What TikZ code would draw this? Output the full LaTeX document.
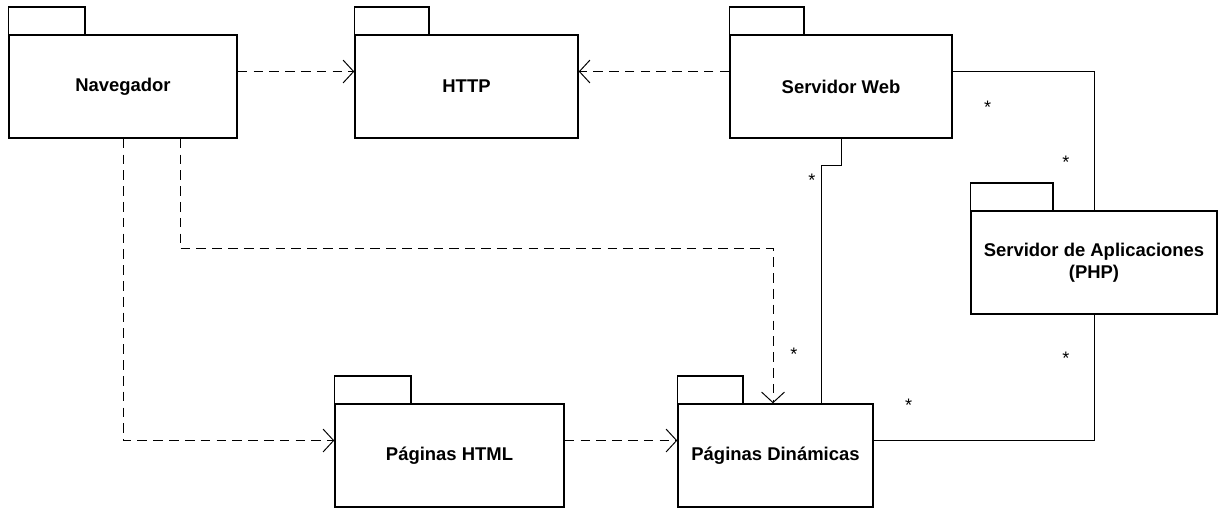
\documentclass[tikz,border=0pt]{standalone}
\usepackage{fontspec}
\setmainfont{Liberation Sans}
\usepackage{tikz}
\usetikzlibrary{arrows.meta, positioning, calc}
\tikzset{
  pkg/.style={draw, line width=0.85pt, rectangle, minimum height=2.06cm, align=center, font=\fontsize{10.5}{12.8}\selectfont\bfseries, inner sep=0pt},
  tab/.style={draw, line width=0.85pt},
  dep/.style={-{Straight Barb[length=6pt, width=13pt]}, line width=0.55pt, dash pattern=on 5.5pt off 3.5pt},
  assoc/.style={line width=0.55pt},
  mult/.style={font=\fontsize{10.3}{12}\selectfont, inner sep=0pt},
}

\begin{document}
\begin{tikzpicture}[x=0.02cm, y=-0.02cm]
  \useasboundingbox (0,0) rectangle (1219,508);

  \node[pkg, minimum width=4.56cm] (nav) at (123,86.5) {Navegador};
  \node[pkg, minimum width=4.46cm] (http) at (466.5,86.5) {HTTP};
  \node[pkg, minimum width=4.44cm] (web) at (841,86.5) {Servidor Web};
  \node[pkg, minimum width=4.92cm] (app) at (1094,262.5) {Servidor de Aplicaciones\\(PHP)};
  \node[pkg, minimum width=4.58cm] (html) at (449.5,455.5) {Páginas HTML};
  \node[pkg, minimum width=3.90cm] (din) at (775.5,455.5) {Páginas Dinámicas};

  % tabs
  \foreach \n in {nav, http, web, app, html, din}
    \draw[tab] (\n.north west) rectangle ($(\n.north west)!1/3!(\n.north east)+(0,-27.5)$);

  % dependencies
  \draw[dep] ([yshift=.3cm]nav.east) -- ([yshift=.3cm]http.west);
  \draw[dep] ([yshift=.3cm]web.west) -- ([yshift=.3cm]http.east);
  \draw[dep] (nav.south) |- ([yshift=.3cm]html.west);
  \draw[dep] ([xshift=1.14cm]nav.south) -- ++(0,110) -| ([xshift=-.05cm]din.north);
  \draw[dep] ([yshift=.3cm]html.east) -- ([yshift=.3cm]din.west);

  % associations
  \draw[assoc] (web.south) -- ++(0,27) -| ([xshift=.91cm]din.north);
  \draw[assoc] ([yshift=.3cm]web.east) -| (app.north);
  \draw[assoc] ([yshift=.3cm]din.east) -| (app.south);

  \node[mult] (m1) at ($(web.south)+(-29,42)$) {*};
  \node[mult] (m2) at ($(din.north)+(18.5,-49)$) {*};
  \node[mult] (m3) at ($(web.east)+(35,21)$) {*};
  \node[mult] (m4) at ($(app.north)+(-28,-48)$) {*};
  \node[mult] (m5) at ($(din.east)+(35,-50)$) {*};
  \node[mult] (m6) at ($(app.south)+(-28,44)$) {*};
\end{tikzpicture}
\end{document}
